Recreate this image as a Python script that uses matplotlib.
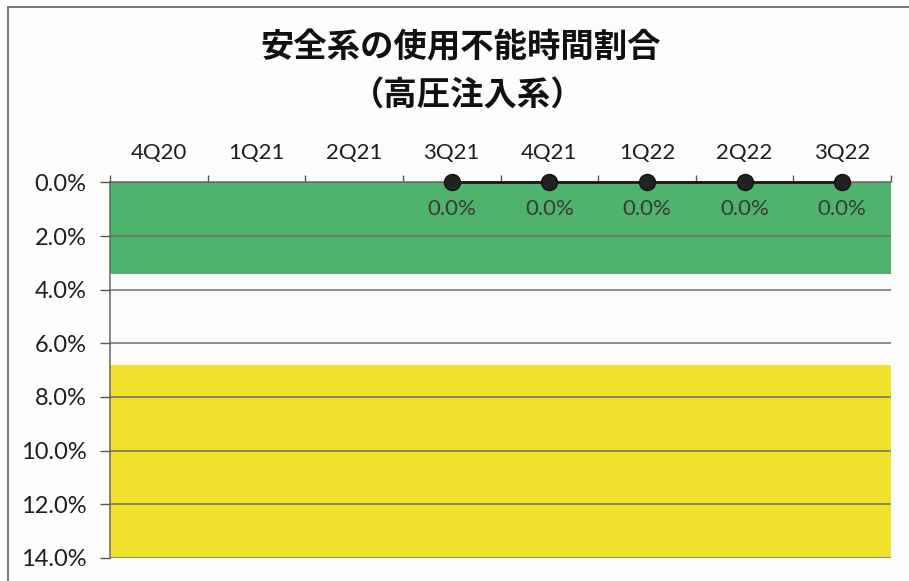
import matplotlib
matplotlib.use("Agg")
import matplotlib.pyplot as plt
from matplotlib.lines import Line2D
from matplotlib.ticker import FixedLocator, FuncFormatter
import numpy as np

# ---- data ----
categories = ["4Q20", "1Q21", "2Q21", "3Q21", "4Q21", "1Q22", "2Q22", "3Q22"]
values = [np.nan, np.nan, np.nan, 0.0, 0.0, 0.0, 0.0, 0.0]   # percent
green_band = (0.0, 3.4)     # percent
yellow_band = (6.8, 14.0)   # percent
y_ticks = [0, 2, 4, 6, 8, 10, 12, 14]
title_line1 = "安全系の使用不能時間割合"
title_line2 = "（高圧注入系）"

W, H = 909, 581
fig = plt.figure(figsize=(W / 100, H / 100), dpi=100)
fig.patch.set_facecolor("#fdfdfb")

# outer chart frame (left/top visible)
fig.add_artist(Line2D([8 / W, 8 / W], [1 - 7 / H, 0], transform=fig.transFigure,
                      color="#6e6e6e", lw=1.3))
fig.add_artist(Line2D([8 / W, 1], [1 - 7 / H, 1 - 7 / H], transform=fig.transFigure,
                      color="#6e6e6e", lw=1.3))

left, right = 110 / W, 891 / W
top, bottom = 1 - 182.5 / H, 1 - 557.7 / H
ax = fig.add_axes([left, bottom, right - left, top - bottom])
ax.set_facecolor("#fdfdfb")

x = np.arange(len(categories))
ax.set_xlim(-0.5, len(categories) - 0.5)
ax.set_ylim(y_ticks[-1], y_ticks[0])

# bands
ax.axhspan(green_band[0], green_band[1], color="#4fb36d", lw=0, zorder=1)
ax.axhspan(yellow_band[0], yellow_band[1], color="#f0e12c", lw=0, zorder=1)

# gridlines
ax.yaxis.set_major_locator(FixedLocator(y_ticks))
ax.yaxis.set_major_formatter(FuncFormatter(lambda v, p: f"{v:.1f}%"))
ax.grid(axis="y", color="#707070", lw=1.1, zorder=2)
ax.set_axisbelow(False)

lab_font = ["Lato", "DejaVu Sans"]

# series
ax.plot(x, values, color="#1a1a1a", lw=2.0, marker="o", markersize=11.5,
        markerfacecolor="#222222", markeredgecolor="#111111", zorder=5, clip_on=False)
for xi, v in zip(x, values):
    if not np.isnan(v):
        ax.annotate(f"{v:.1f}%", (xi, v), xytext=(0, -19), textcoords="offset points",
                    ha="center", va="center", fontsize=16, color="#3a3a3a",
                    family=lab_font, zorder=6)

# x axis on top with ticks at category boundaries
ax.xaxis.tick_top()
ax.set_xticks(np.arange(len(categories) + 1) - 0.5)
ax.set_xticklabels([])
ax.set_xticks(x, minor=True)
ax.set_xticklabels(categories, minor=True)
ax.tick_params(axis="x", which="major", direction="out", length=5, width=1,
               color="#555555", top=True, bottom=False)
ax.tick_params(axis="x", which="minor", length=0, pad=14, labelsize=16,
               labelcolor="#1e1e1e", top=True, bottom=False)
ax.tick_params(axis="y", direction="out", length=7, width=1, color="#555555",
               labelsize=17, labelcolor="#1e1e1e", pad=10)
for lab in ax.get_xticklabels(minor=True) + ax.get_yticklabels():
    lab.set_family(lab_font)

for s in ["right", "bottom"]:
    ax.spines[s].set_visible(False)
ax.spines["left"].set_color("#666666")
ax.spines["left"].set_linewidth(1.1)
ax.spines["top"].set_color("#666666")
ax.spines["top"].set_linewidth(1.1)
ax.spines["top"].set_zorder(3)

# title
fig.text(461 / W, 1 - 48 / H, title_line1, ha="center", va="center", fontsize=24,
         fontweight="bold", family=["Noto Sans CJK JP", "DejaVu Sans"], color="#111111")
fig.text(468 / W, 1 - 95 / H, title_line2, ha="center", va="center", fontsize=24,
         fontweight="bold", family=["Noto Sans CJK JP", "DejaVu Sans"], color="#111111")

fig.savefig("out.png", dpi=100, facecolor=fig.get_facecolor())
